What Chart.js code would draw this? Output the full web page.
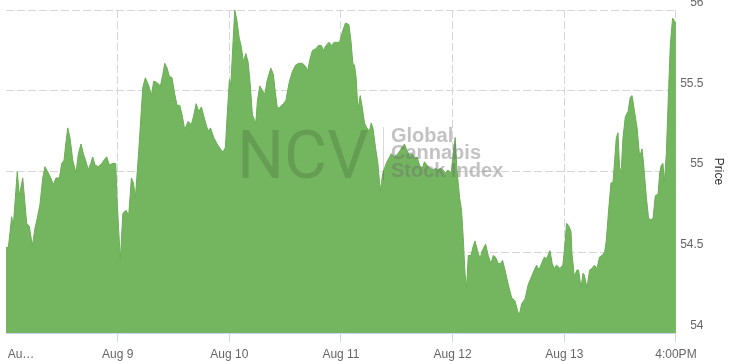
<!DOCTYPE html>
<html>
<head>
<meta charset="utf-8">
<script src="https://cdn.jsdelivr.net/npm/chart.js@4.4.1/dist/chart.umd.min.js"></script>
<style>
  html, body { margin: 0; padding: 0; background: #fff; }
</style>
</head>
<body>
<canvas id="chart" width="735" height="361"></canvas>
<script>
// time in trading sessions since the first open (one session = 1.0)
const times = [
  0.000,0.021,0.051,0.065,0.101,0.119,0.150,0.170,0.185,0.209,
  0.236,0.260,0.280,0.305,0.329,0.349,0.379,0.401,0.424,0.448,
  0.478,0.499,0.520,0.535,0.553,0.573,0.598,0.627,0.648,0.672,
  0.693,0.717,0.737,0.759,0.777,0.797,0.827,0.858,0.887,0.902,
  0.926,0.956,0.983,0.995,
  1.024,1.046,1.075,1.099,1.123,1.141,1.159,1.189,1.225,1.248,
  1.279,1.302,1.323,1.353,1.383,1.404,1.422,1.443,1.463,1.487,
  1.511,1.532,1.556,1.577,1.601,1.631,1.660,1.682,1.703,1.727,
  1.750,1.780,1.810,1.831,1.861,1.891,1.920,1.944,1.965,1.980,
  2.001,2.013,2.034,2.049,2.067,2.088,2.108,2.126,2.148,2.168,
  2.186,2.207,2.237,2.252,2.273,2.297,2.318,2.341,2.372,2.395,
  2.410,2.431,2.455,2.485,2.506,2.536,2.565,2.596,2.625,2.655,
  2.685,2.700,2.724,2.745,2.775,2.798,2.825,2.843,2.865,2.894,
  2.915,2.939,2.963,2.987,
  3.011,3.040,3.071,3.091,3.106,3.121,3.136,3.152,3.172,3.190,
  3.211,3.232,3.255,3.271,3.286,3.309,3.331,3.351,3.375,3.405,
  3.435,3.450,3.479,3.510,3.539,3.569,3.590,3.614,3.638,3.659,
  3.683,3.703,3.728,3.748,3.770,3.793,3.823,3.847,3.868,3.889,
  3.913,3.936,3.958,3.987,
  4.008,4.023,4.039,4.062,4.080,4.095,4.111,4.125,4.140,4.164,
  4.185,4.200,4.223,4.245,4.265,4.295,4.319,4.343,4.364,4.384,
  4.409,4.429,4.447,4.469,4.498,4.528,4.558,4.581,4.597,4.618,
  4.648,4.677,4.707,4.731,4.752,4.773,4.796,4.821,4.841,4.872,
  4.892,4.910,4.931,4.961,4.987,
  5.006,5.020,5.042,5.060,5.069,5.090,5.114,5.128,5.150,5.168,
  5.179,5.203,5.227,5.248,5.269,5.293,5.316,5.338,5.361,5.376,
  5.397,5.418,5.436,5.451,5.466,5.481,5.496,5.511,5.526,5.547,
  5.571,5.591,5.607,5.627,5.652,5.675,5.696,5.710,5.735,5.755,
  5.777,5.795,5.815,5.840,5.854,5.869,5.884,5.896,5.914,5.935,
  5.950,5.970,5.988,6.000
];

const prices = [
  54.53,54.53,54.72,54.66,55.00,54.85,54.96,54.80,54.68,54.66,
  54.54,54.65,54.71,54.80,54.96,55.03,54.99,54.96,54.92,54.96,
  54.96,55.05,55.07,55.17,55.27,55.21,55.07,54.99,55.11,55.17,
  55.11,55.06,55.01,55.05,55.09,55.04,55.03,55.05,55.08,55.09,
  55.04,55.05,55.05,54.82,
  54.45,54.74,54.76,54.73,54.96,54.93,54.84,55.13,55.52,55.58,
  55.53,55.47,55.56,55.55,55.53,55.60,55.67,55.64,55.59,55.58,
  55.48,55.41,55.41,55.35,55.26,55.31,55.29,55.35,55.42,55.37,
  55.40,55.32,55.25,55.27,55.21,55.17,55.14,55.12,55.15,55.34,
  55.57,55.53,55.81,56.00,55.94,55.83,55.77,55.68,55.73,55.68,
  55.55,55.35,55.30,55.44,55.53,55.50,55.48,55.57,55.64,55.60,
  55.50,55.39,55.40,55.42,55.44,55.55,55.62,55.66,55.67,55.67,
  55.65,55.62,55.70,55.75,55.76,55.78,55.78,55.75,55.78,55.80,
  55.78,55.80,55.80,55.80,
  55.86,55.92,55.91,55.80,55.67,55.66,55.58,55.38,55.47,55.40,
  55.30,55.27,55.25,55.30,55.27,55.15,55.05,54.88,54.99,55.05,
  55.09,55.11,55.09,55.11,55.14,55.17,55.13,55.10,55.11,55.08,
  55.09,55.04,55.02,55.06,55.04,55.02,55.01,55.02,55.01,55.02,
  55.01,54.99,55.01,54.99,
  55.13,55.21,55.01,54.84,54.76,54.59,54.37,54.28,54.48,54.48,
  54.54,54.57,54.51,54.46,54.51,54.55,54.48,54.43,54.48,54.47,
  54.43,54.43,54.45,54.39,54.30,54.22,54.20,54.14,54.11,54.18,
  54.21,54.30,54.35,54.39,54.42,54.39,54.43,54.47,54.46,54.51,
  54.43,54.40,54.42,54.40,54.42,
  54.55,54.68,54.66,54.63,54.49,54.35,54.39,54.39,54.28,54.37,
  54.36,54.28,54.39,54.40,54.42,54.40,54.47,54.48,54.50,54.57,
  54.76,54.93,54.93,55.07,55.21,55.24,55.01,55.02,55.21,55.34,
  55.37,55.46,55.47,55.38,55.27,55.09,55.14,55.05,54.84,54.71,
  54.70,54.71,54.85,54.86,54.99,55.04,55.05,54.93,55.11,55.52,
  55.79,55.95,55.93,55.91
];

// x axis ticks (session starts) and their labels
const xTickValues = [0, 1, 2, 3, 4, 5, 6];
const xTickLabels = ["         Au\u2026", "Aug 9", "Aug 10", "Aug 11", "Aug 12", "Aug 13", "4:00PM"];
const yTickValues = [54, 54.5, 55, 55.5, 56];
const yTickLabels = ["54", "54.5", "55", "55.5", "56"];

const points = times.map((t, i) => ({ x: t, y: prices[i] }));

const labelFont = { family: "'Liberation Sans', Arial, sans-serif", size: 12 };

// NCV logo watermark over the plot
const watermark = {
  id: "watermark",
  afterDatasetsDraw(chart) {
    const { ctx, chartArea: a } = chart;
    ctx.save();
    ctx.textBaseline = "alphabetic";
    ctx.fillStyle = "rgba(0, 0, 0, 0.13)";
    ctx.font = "400 66px Roboto";
    ctx.fillText("NCV", a.left + 231, a.top + 168);

    ctx.strokeStyle = "rgba(0, 0, 0, 0.15)";
    ctx.lineWidth = 1;
    ctx.beginPath();
    ctx.moveTo(a.left + 377.5, a.top + 117);
    ctx.lineTo(a.left + 377.5, a.top + 170);
    ctx.stroke();

    ctx.fillStyle = "rgba(110, 110, 110, 0.42)";
    ctx.font = "bold 20px 'Liberation Sans'";
    ctx.fillText("Global", a.left + 385, a.top + 132);
    ctx.fillText("Cannabis", a.left + 385, a.top + 149);
    ctx.fillText("Stock Index", a.left + 385, a.top + 167);
    ctx.restore();
  }
};

const ctx = document.getElementById("chart").getContext("2d");

new Chart(ctx, {
  type: "line",
  data: {
    datasets: [
      {
        label: "NCV",
        data: points,
        yAxisID: "y",
        borderColor: "#6aae55",
        borderWidth: 1,
        backgroundColor: "#74b660",
        fill: "start",
        pointRadius: 0,
        tension: 0
      }
    ]
  },
  options: {
    responsive: false,
    animation: false,
    layout: { padding: { left: 6, top: 10, right: 5.3, bottom: 0 } },
    plugins: {
      legend: { display: false },
      tooltip: { enabled: false }
    },
    scales: {
      x: {
        type: "linear",
        min: 0,
        max: 6,
        afterBuildTicks: axis => { axis.ticks = xTickValues.map(v => ({ value: v })); },
        afterFit: axis => { axis.paddingLeft = 0; axis.paddingRight = 0; axis.height = 28; },
        ticks: {
          autoSkip: false,
          maxRotation: 0,
          padding: 5,
          color: "#666",
          font: labelFont,
          callback: (v, i) => xTickLabels[i]
        },
        grid: {
          color: c => c.index === 0 ? "rgba(0,0,0,0)" : "#d6d6d6",
          tickColor: c => c.index === 0 ? "rgba(0,0,0,0)" : "#ccd6eb",
          tickLength: 9,
          tickBorderDash: []
        },
        border: { color: "#ccd6eb", dash: [8, 3] }
      },
      y: {
        position: "right",
        min: 54,
        max: 56,
        afterBuildTicks: axis => { axis.ticks = yTickValues.map(v => ({ value: v })); },
        ticks: {
          padding: 2.1,
          crossAlign: "far",
          labelOffset: -7.5,
          color: "#666",
          font: labelFont,
          callback: (v, i) => yTickLabels[i]
        },
        grid: { color: "#d6d6d6", drawTicks: false, tickLength: 0 },
        border: { display: false, dash: [8, 3] }
      },
      // carries only the "Price" title, outside the tick labels
      yTitle: {
        position: "right",
        min: 54,
        max: 56,
        ticks: { display: false },
        grid: { display: false, drawTicks: false, tickLength: 0 },
        border: { display: false },
        title: {
          display: true,
          text: "Price",
          color: "#333",
          font: labelFont,
          padding: { top: 4, bottom: 7.8 }
        }
      }
    }
  },
  plugins: [watermark]
});
</script>
</body>
</html>
